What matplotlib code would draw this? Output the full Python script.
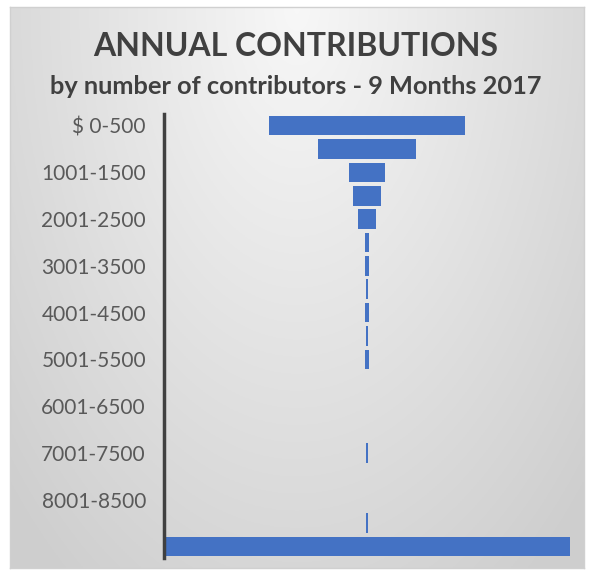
import numpy as np
import matplotlib
matplotlib.use("Agg")
import matplotlib.pyplot as plt

# contribution brackets (every other label is hidden, like the original)
brackets = ["$ 0-500", "501-1000", "1001-1500", "1501-2000", "2001-2500",
            "2501-3000", "3001-3500", "3501-4000", "4001-4500", "4501-5000",
            "5001-5500", "5501-6000", "6001-6500", "6501-7000", "7001-7500",
            "7501-8000", "8001-8500", "8501-9000", "Total"]
contributors = [950, 480, 176, 140, 90, 23, 23, 12, 23, 12, 23, 0, 0, 0,
                10, 0, 0, 10, 1972]

title = "ANNUAL CONTRIBUTIONS"
subtitle = "by number of contributors - 9 Months 2017"

bar_color = "#4472C4"
text_color = "#595959"
title_color = "#404040"

plt.rcParams["font.family"] = ["Lato", "DejaVu Sans"]

fig = plt.figure(figsize=(5.91, 5.72), dpi=100)
fig.patch.set_facecolor("white")

# gradient background panel (light at the top, grey towards the bottom corners)
bg = fig.add_axes([10 / 591, 4 / 572, 574 / 591, 561 / 572])
gx, gy = np.meshgrid(np.linspace(-1, 1, 300), np.linspace(0, 1, 300))
dist = np.sqrt((gx * 0.9) ** 2 + (gy * 1.0) ** 2)
shade = 0.97 - 0.16 * np.clip(dist / 1.25, 0, 1)
rgb = np.dstack([shade, shade, shade])
bg.imshow(rgb, extent=[0, 1, 0, 1], aspect="auto", origin="upper")
bg.set_xticks([])
bg.set_yticks([])
for s in bg.spines.values():
    s.set_color("#d0d0d0")
    s.set_linewidth(1.0)

ax = fig.add_axes([164 / 591, 14 / 572, 406 / 591, 444 / 572])
ax.patch.set_alpha(0)

y = np.arange(len(brackets))
widest = max(contributors)
left = [(widest - v) / 2 for v in contributors]
ax.barh(y, contributors, left=left, height=0.84, color=bar_color)

ax.set_xlim(0, widest)
ax.set_ylim(len(brackets) - 0.5, -0.5)
ax.set_xticks([])
ax.set_yticks(y)
ax.set_yticklabels([b if i % 2 == 0 and i < 18 else "" for i, b in enumerate(brackets)],
                   fontsize=15, color=text_color)
ax.tick_params(axis="y", length=0, pad=13)
for side in ["top", "right", "bottom"]:
    ax.spines[side].set_visible(False)
ax.spines["left"].set_color("#404040")
ax.spines["left"].set_linewidth(2.5)

fig.text(0.501, 1 - 47 / 572, title, ha="center", va="center",
         fontsize=23, fontweight="bold", color=title_color)
fig.text(0.501, 1 - 87 / 572, subtitle, ha="center", va="center",
         fontsize=18.3, fontweight="bold", color=title_color)

fig.savefig("out.png", dpi=100)
